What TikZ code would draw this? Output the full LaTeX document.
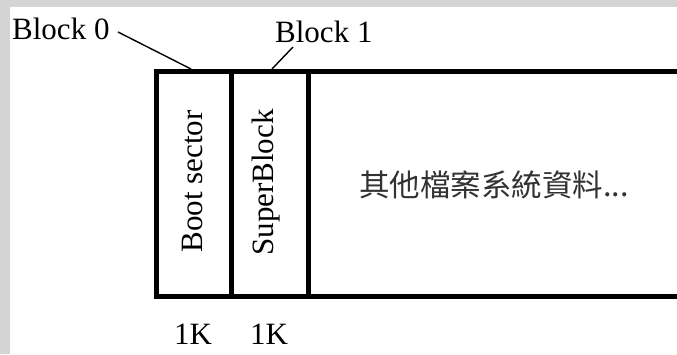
\documentclass[tikz,border=0pt]{standalone}
\usepackage{fontspec}
\setmainfont{Liberation Serif}
\newfontfamily\cjk{Noto Sans CJK TC}
\definecolor{framegray}{RGB}{212,212,212}
\definecolor{cjkgray}{RGB}{50,50,50}
\begin{document}
\begin{tikzpicture}[x=1pt,y=-1pt,
  lbl/.style={inner sep=0pt, font=\fontsize{31}{33}\selectfont},
  wall/.style={line width=5pt, line join=miter},
  leader/.style={line width=1.4pt}]
\useasboundingbox (0,0) rectangle (677,354);
\fill[framegray] (0,0) rectangle (677,354);
\fill[white] (10,7) rectangle (677,354);
\begin{scope}
\clip (10,7) rectangle (677,354);
% storage band
\coordinate (tl) at (156.5,71);
\coordinate (bl) at (156.5,296);
\coordinate (tr) at (690,71);
\coordinate (br) at (690,296);
\coordinate (d1t) at (231,71);
\coordinate (d1b) at (231,296);
\coordinate (d2t) at (308,71);
\coordinate (d2b) at (308,296);
\draw[wall] (tr) -- (tl) -- (bl) -- (br);
\draw[wall] (d1t) -- (d1b);
\draw[wall] (d2t) -- (d2b);
\end{scope}
% labels
\node[lbl, anchor=base west] (b0) at (12,39) {Block 0};
\node[lbl, anchor=base west] (b1) at (275,42) {Block 1};
\coordinate (b0start) at (118,32);
\coordinate (b0end) at (191,69);
\coordinate (b1start) at (293,47);
\coordinate (b1end) at (272,69);
\draw[leader] (b0start) -- (b0end);
\draw[leader] (b1start) -- (b1end);
\node[lbl, rotate=90, anchor=base] (boot) at (202,181.5) {Boot sector};
\node[lbl, rotate=90, anchor=base] (super) at (273,182.5) {SuperBlock};
\node[inner sep=0pt, text=cjkgray, font=\cjk\fontsize{30.5}{32}\selectfont] (other) at (494,185) {其他檔案系統資料...};
\node[lbl, anchor=base] (k1) at (193,344) {1K};
\node[lbl, anchor=base] (k2) at (269,344) {1K};
\end{tikzpicture}
\end{document}
